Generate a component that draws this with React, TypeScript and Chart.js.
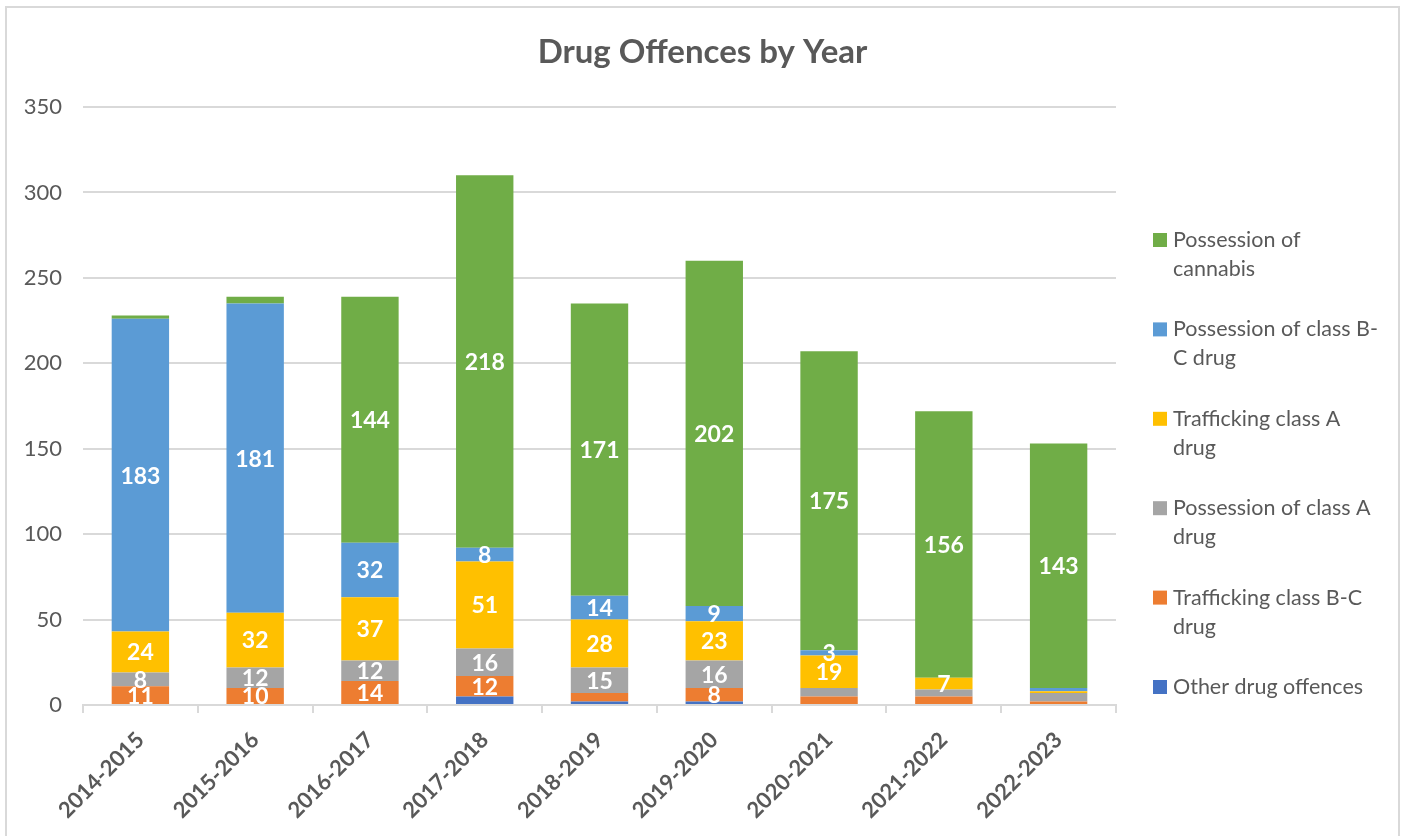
import React, { useEffect, useRef } from "react";
import { Chart, registerables } from "chart.js";

Chart.register(...registerables);

const categories = [
  "2014-2015", "2015-2016", "2016-2017", "2017-2018", "2018-2019",
  "2019-2020", "2020-2021", "2021-2022", "2022-2023",
];
const otherDrugOffences = [0, 0, 0, 5, 2, 2, 0, 0, 0];
const traffickingClassBC = [11, 10, 14, 12, 5, 8, 5, 5, 2];
const possessionClassA = [8, 12, 12, 16, 15, 16, 5, 4, 5];
const traffickingClassA = [24, 32, 37, 51, 28, 23, 19, 7, 1];
const possessionClassBC = [183, 181, 32, 8, 14, 9, 3, 0, 2];
const possessionCannabis = [2, 4, 144, 218, 171, 202, 175, 156, 143];

const chartTitle = "Drug Offences by Year";
const yTicksMax = 350;
const yTicksStep = 50;
const labelMinValue = 7;
const forcedLabels = [{ series: "Possession of class B-C drug", category: "2020-2021" }];

const seriesNames = [
  "Other drug offences",
  "Trafficking class B-C drug",
  "Possession of class A drug",
  "Trafficking class A drug",
  "Possession of class B-C drug",
  "Possession of cannabis",
];
const seriesColors = ["#4472C4", "#ED7D31", "#A5A5A5", "#FFC000", "#5B9BD5", "#70AD47"];
const legendLines: string[][] = [
  ["Possession of", "cannabis"],
  ["Possession of class B-", "C drug"],
  ["Trafficking class A", "drug"],
  ["Possession of class A", "drug"],
  ["Trafficking class B-C", "drug"],
  ["Other drug offences"],
];

const FONT = "Lato, 'Open Sans', sans-serif";
const TEXT = "#595959";
const GRID = "#D9D9D9";

export default function App() {
  const ref = useRef<HTMLCanvasElement | null>(null);

  useEffect(() => {
    const canvas = ref.current;
    if (!canvas) return;
    const seriesData = [
      otherDrugOffences, traffickingClassBC, possessionClassA,
      traffickingClassA, possessionClassBC, possessionCannabis,
    ];

    const framePlugin = {
      id: "frame",
      beforeDraw(chart: any) {
        const c = chart.ctx;
        c.save();
        c.fillStyle = "#ffffff";
        c.fillRect(0, 0, chart.width, chart.height);
        c.restore();
      },
      afterDraw(chart: any) {
        const c = chart.ctx;
        c.save();
        c.strokeStyle = GRID;
        c.lineWidth = 2;
        c.beginPath();
        c.moveTo(6, chart.height + 2);
        c.lineTo(6, 7);
        c.lineTo(1399, 7);
        c.lineTo(1399, chart.height + 2);
        c.stroke();
        // title
        c.fillStyle = TEXT;
        c.font = `bold 33px ${FONT}`;
        c.textAlign = "center";
        c.textBaseline = "middle";
        c.fillText(chartTitle, chart.width / 2, 52);
        c.restore();
      },
    };

    const labelPlugin = {
      id: "segLabels",
      afterDatasetsDraw(chart: any) {
        const c = chart.ctx;
        const area = chart.chartArea;
        c.save();
        c.beginPath();
        c.rect(area.left, area.top, area.right - area.left, area.bottom - area.top);
        c.clip();
        c.fillStyle = "#ffffff";
        c.font = `bold 23px ${FONT}`;
        c.textAlign = "center";
        c.textBaseline = "middle";
        chart.data.datasets.forEach((ds: any, i: number) => {
          const meta = chart.getDatasetMeta(i);
          meta.data.forEach((bar: any, j: number) => {
            const v = ds.data[j];
            const forced = forcedLabels.some(
              (f) => f.series === ds.label && f.category === chart.data.labels[j]
            );
            if (!(v >= labelMinValue || (forced && v > 0))) return;
            const p = bar.getProps(["x", "y", "base"], true);
            c.fillText(String(v), p.x, (p.y + p.base) / 2 + 1);
          });
        });
        c.restore();
      },
    };

    const legendPlugin = {
      id: "wrapLegend",
      afterDraw(chart: any) {
        const c = chart.ctx;
        const area = chart.chartArea;
        const boxX = area.right + 37;
        const textX = boxX + 20;
        const startY = 240;
        const step = 89.4;
        const lineH = 29;
        c.save();
        c.font = `21.5px ${FONT}`;
        c.textBaseline = "middle";
        c.textAlign = "left";
        const n = chart.data.datasets.length;
        for (let k = 0; k < n; k++) {
          const idx = n - 1 - k;
          const ds = chart.data.datasets[idx];
          const y = startY + k * step;
          c.fillStyle = ds.backgroundColor;
          c.fillRect(boxX, y - 7, 14, 14);
          c.fillStyle = TEXT;
          legendLines[k].forEach((line, li) => c.fillText(line, textX, y + li * lineH));
        }
        c.restore();
      },
    };

    const chart = new Chart(canvas, {
      type: "bar",
      data: {
        labels: categories,
        datasets: seriesNames.map((name, i) => ({
          label: name,
          data: seriesData[i],
          backgroundColor: seriesColors[i],
          borderWidth: 0,
          barPercentage: 0.5,
          categoryPercentage: 1,
        })),
      },
      options: {
        responsive: false,
        animation: false,
        devicePixelRatio: 1,
        layout: { padding: { left: 0, right: 289, top: 107, bottom: 0 } },
        plugins: {
          legend: { display: false },
          tooltip: { enabled: false },
          title: { display: false },
        },
        scales: {
          x: {
            stacked: true,
            grid: {
              display: true,
              offset: true,
              drawOnChartArea: false,
              drawTicks: true,
              tickLength: 8,
              color: GRID,
              lineWidth: 2,
            },
            border: { display: true, color: GRID, width: 2 },
            ticks: {
              color: TEXT,
              font: { family: FONT, size: 22, weight: "bold" },
              minRotation: 45,
              maxRotation: 45,
              padding: 14,
            },
            afterFit(scale: any) {
              scale.height = 131;
            },
          },
          y: {
            stacked: true,
            min: 0,
            max: yTicksMax,
            ticks: {
              stepSize: yTicksStep,
              color: TEXT,
              font: { family: FONT, size: 22 },
              padding: 21,
            },
            grid: { color: GRID, lineWidth: 2, drawTicks: false },
            border: { display: false },
            afterFit(scale: any) {
              scale.width = 83;
            },
          },
        },
      },
      plugins: [framePlugin, labelPlugin, legendPlugin],
    } as any);

    return () => chart.destroy();
  }, []);

  return (
    <div style={{ position: "absolute", left: 0, top: 0, width: 1405, height: 836 }}>
      <canvas ref={ref} width={1405} height={836} style={{ display: "block" }} />
    </div>
  );
}
